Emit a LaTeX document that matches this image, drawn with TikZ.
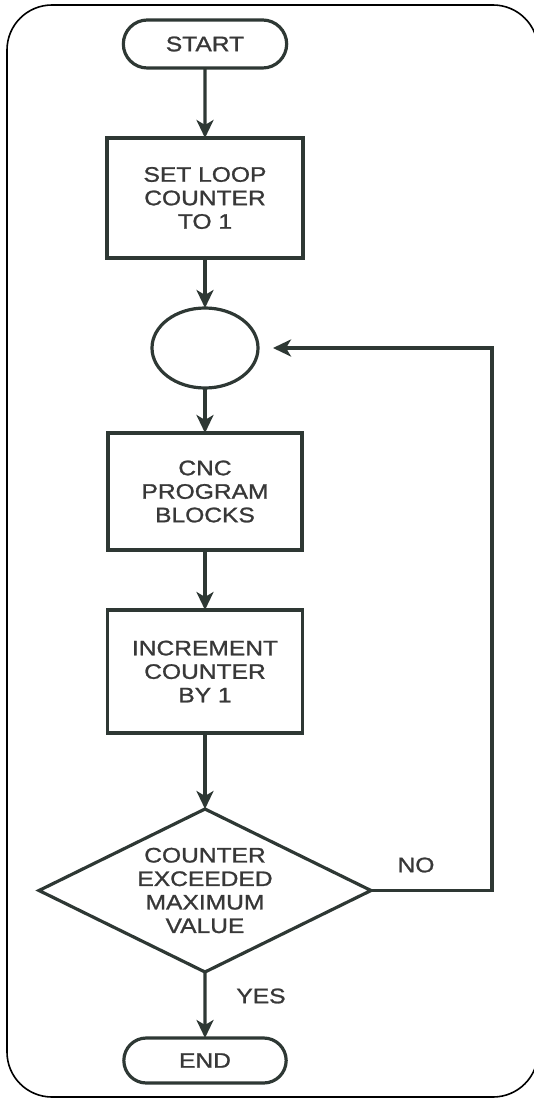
\documentclass[tikz,border=0pt]{standalone}
\usepackage{fontspec}
\setmainfont{Liberation Sans}[FakeStretch=1.17, FakeBold=1.2]
\usetikzlibrary{shapes,arrows.meta,positioning}
\definecolor{inkline}{HTML}{2E3834}
\definecolor{inktext}{HTML}{383838}
\tikzstyle{arrow} = [-{Stealth[length=18pt,width=17pt,inset=5pt]}, line width=3.2pt, draw=inkline]
\tikzstyle{block} = [draw=inkline, line width=3.2pt, outer sep=0pt, text=inktext, align=center, font=\fontsize{21}{23.5}\selectfont]
\tikzstyle{lbl} = [text=inktext, font=\fontsize{21}{23.5}\selectfont]

\begin{document}
\begin{tikzpicture}[x=1pt, y=-1pt]
    \useasboundingbox (0,0) rectangle (533,1099);
    % Frame
    \draw[line width=1.6pt, rounded corners=45pt] (7,5) rectangle (538,1097);
    % Nodes
    \node[block, rounded rectangle, minimum width=170pt, minimum height=48pt] (start) at (205,44) {START};
    \node[block, minimum width=196pt, minimum height=120pt, below=70pt of start] (setc) {SET LOOP\\COUNTER\\TO 1};
    \node[block, ellipse, minimum width=106pt, minimum height=80pt, below=50pt of setc] (loop) {};
    \node[block, minimum width=194pt, minimum height=117pt, below=45pt of loop] (prog) {CNC\\PROGRAM\\BLOCKS};
    \node[block, minimum width=195pt, minimum height=123pt, below=60pt of prog] (incr) {INCREMENT\\COUNTER\\BY 1};
    \node[block, diamond, aspect=2, inner sep=0pt, minimum width=332pt, minimum height=163pt, below=76pt of incr] (check) {COUNTER\\EXCEEDED\\MAXIMUM\\VALUE};
    \node[block, rounded rectangle, minimum width=169pt, minimum height=45pt, below=66pt of check] (stop) {END};
    % Arrows
    \draw[arrow] (start) -- (setc);
    \draw[arrow] (setc) -- (loop);
    \draw[arrow] (loop) -- (prog);
    \draw[arrow] (prog) -- (incr);
    \draw[arrow] (incr) -- (check);
    \draw[arrow] (check) -- (stop);
    \draw[arrow, shorten >=15pt] (check.east) -- ++(121,0) |- (loop.east);
    % Labels
    \node[lbl] (no) at (416,865) {NO};
    \node[lbl] (yes) at (261,996) {YES};
\end{tikzpicture}
\end{document}
